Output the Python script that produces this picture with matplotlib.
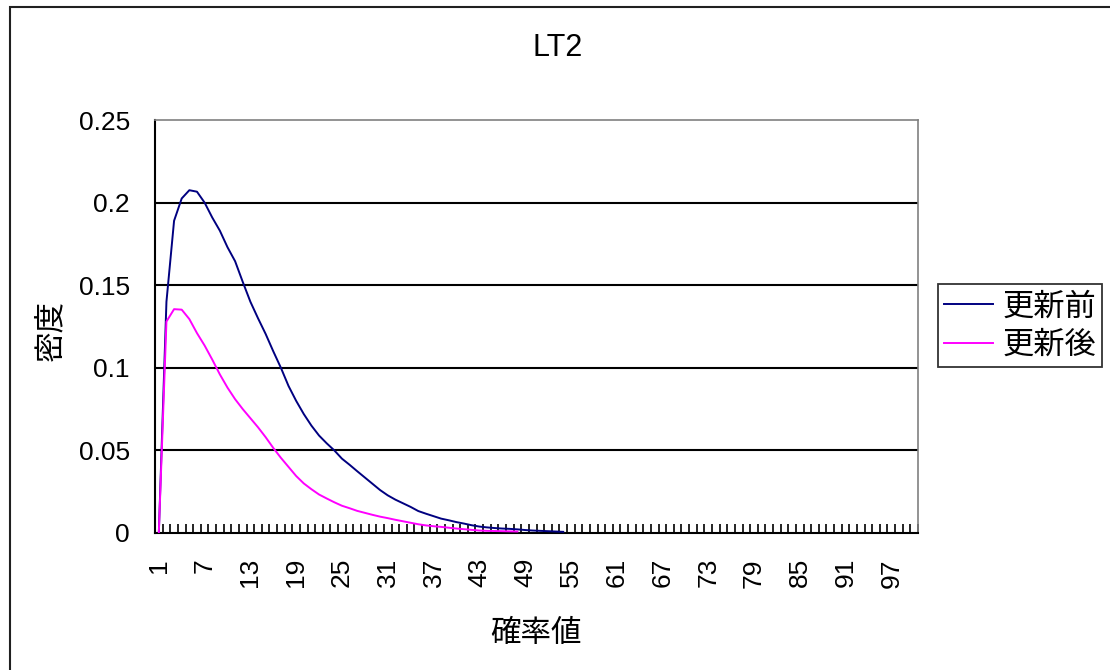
import matplotlib
matplotlib.use("Agg")
import matplotlib.pyplot as plt
from matplotlib.patches import Rectangle
from matplotlib.ticker import FixedLocator, NullFormatter, FixedFormatter

# category axis: probability values 1..100
categories = list(range(1, 101))
label_cats = list(range(1, 101, 6))

# density before update (更新前)
before = [0.0, 0.140, 0.189, 0.2025, 0.2075, 0.2066, 0.2000, 0.191, 0.183, 0.173,
          0.1645, 0.152, 0.140, 0.130, 0.1205, 0.110, 0.100, 0.089, 0.080, 0.072,
          0.065, 0.059, 0.0543, 0.050, 0.045, 0.0413, 0.0374, 0.0336, 0.0298, 0.026,
          0.0228, 0.0202, 0.018, 0.0158, 0.0133, 0.0117, 0.0102, 0.0087, 0.0077, 0.0066,
          0.0057, 0.0047, 0.0039, 0.0034, 0.0030, 0.0027, 0.0025, 0.0022, 0.0018, 0.0015,
          0.0013, 0.0011, 0.0009, 0.0007]

# density after update (更新後)
after = [0.0, 0.128, 0.1355, 0.1352, 0.1295, 0.1210, 0.1135, 0.105, 0.096, 0.088,
         0.081, 0.075, 0.0695, 0.0640, 0.058, 0.0515, 0.0455, 0.040, 0.0345, 0.030,
         0.0265, 0.0233, 0.0209, 0.0186, 0.0165, 0.015, 0.0134, 0.0122, 0.011, 0.0099,
         0.009, 0.008, 0.0071, 0.0062, 0.0053, 0.0046, 0.0041, 0.0037, 0.0032, 0.0027,
         0.0023, 0.0019, 0.0015, 0.0013, 0.0012, 0.0011, 0.0010, 0.0009]

y_ticks = [0, 0.05, 0.1, 0.15, 0.2, 0.25]
y_labels = ["0", "0.05", "0.1", "0.15", "0.2", "0.25"]

NUM_FONT = "Liberation Sans"
CJK_FONT = ["Noto Sans CJK JP", "DejaVu Sans"]

W, H = 1110, 670
fig = plt.figure(figsize=(W / 100, H / 100), dpi=100)
fig.patch.set_facecolor("white")

# outer chart frame
fig.add_artist(Rectangle((10 / W, -0.05), 1.2, 1 - 7 / H + 0.05,
                         transform=fig.transFigure, fill=False,
                         edgecolor="#202020", linewidth=1.5, clip_on=False))

left, right, top, bottom = 155, 918, 120, 533
ax = fig.add_axes([left / W, 1 - bottom / H, (right - left) / W, (bottom - top) / H])

ax.plot(categories[:len(before)], before, color="#000080", linewidth=1.4,
        label="更新前", zorder=4, solid_joinstyle="round")
ax.plot(categories[:len(after)], after, color="#FF00FF", linewidth=1.4,
        label="更新後", zorder=5, solid_joinstyle="round")

ax.set_xlim(0.5, 100.5)
ax.set_ylim(0, 0.25)

# horizontal gridlines
for v in y_ticks[1:-1]:
    ax.axhline(v, color="black", linewidth=1.5, zorder=2)

for s in ("left", "bottom"):
    ax.spines[s].set_color("black")
    ax.spines[s].set_linewidth(1.5)
for s in ("top", "right"):
    ax.spines[s].set_color("#808080")
    ax.spines[s].set_linewidth(1.2)

# y axis
ax.set_yticks(y_ticks)
ax.set_yticklabels(y_labels, fontfamily=NUM_FONT, fontsize=19)
ax.tick_params(axis="y", length=0, pad=18)

# x axis: tick marks between categories, labels every 6th category
ax.xaxis.set_major_locator(FixedLocator([c - 0.5 for c in categories] + [100.5]))
ax.xaxis.set_major_formatter(NullFormatter())
ax.xaxis.set_minor_locator(FixedLocator(label_cats))
ax.xaxis.set_minor_formatter(FixedFormatter([str(c) for c in label_cats]))
ax.tick_params(axis="x", which="major", direction="in", length=6.5, width=1.2, color="black")
ax.tick_params(axis="x", which="minor", length=0, pad=18, labelrotation=90)
for lbl in ax.xaxis.get_minorticklabels():
    lbl.set_fontfamily(NUM_FONT)
    lbl.set_fontsize(19)

ax.set_xlabel("確率値", fontfamily=CJK_FONT, fontsize=22)
ax.xaxis.set_label_coords(0.5, -0.205)
ax.xaxis.label.set_va("top")

ax.set_ylabel("密度", fontfamily=CJK_FONT, fontsize=22)
ax.yaxis.set_label_coords(-0.116, 0.49)

fig.text(558 / W, 1 - 48 / H, "LT2", fontfamily=NUM_FONT, fontsize=22,
         ha="center", va="center")

leg = ax.legend(loc="upper left", bbox_to_anchor=(938 / W, 1 - 284 / H),
                bbox_transform=fig.transFigure, frameon=True, fancybox=False,
                prop={"family": CJK_FONT, "size": 22.5}, handlelength=1.55,
                handletextpad=0.3, borderpad=0.2, labelspacing=0.2,
                borderaxespad=0)
leg.get_frame().set_edgecolor("black")
leg.get_frame().set_linewidth(1.3)
for line in leg.get_lines():
    line.set_linewidth(1.4)

fig.savefig("out.png", dpi=100, facecolor="white")
